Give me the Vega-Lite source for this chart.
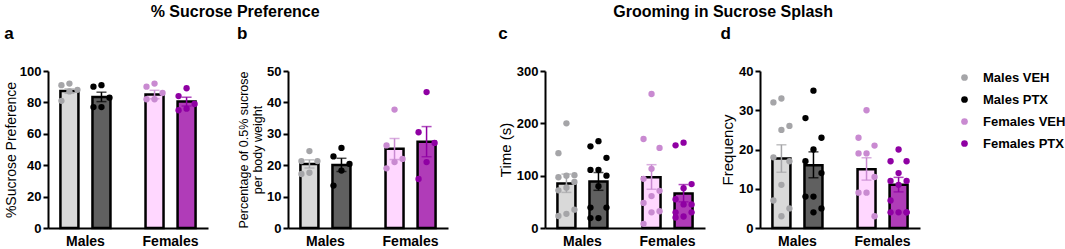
{
  "$schema": "https://vega.github.io/schema/vega-lite/v6.json",
  "padding": {"left": 4, "top": 4, "right": 5, "bottom": 5},
  "datasets": {
    "summary": [
      {"p": "a", "sex": "Males", "trt": "VEH", "mean": 87.2, "lo": 85.8, "hi": 88.6},
      {"p": "a", "sex": "Males", "trt": "PTX", "mean": 83.5, "lo": 80.5, "hi": 86.5},
      {"p": "a", "sex": "Females", "trt": "VEH", "mean": 85.0, "lo": 82.3, "hi": 87.7},
      {"p": "a", "sex": "Females", "trt": "PTX", "mean": 80.5, "lo": 77.7, "hi": 83.3},
      {"p": "b", "sex": "Males", "trt": "VEH", "mean": 20.4, "lo": 19.1, "hi": 21.7},
      {"p": "b", "sex": "Males", "trt": "PTX", "mean": 20.1, "lo": 18.0, "hi": 22.2},
      {"p": "b", "sex": "Females", "trt": "VEH", "mean": 25.2, "lo": 21.8, "hi": 28.5},
      {"p": "b", "sex": "Females", "trt": "PTX", "mean": 27.5, "lo": 22.7, "hi": 32.3},
      {"p": "c", "sex": "Males", "trt": "VEH", "mean": 85, "lo": 68, "hi": 103},
      {"p": "c", "sex": "Males", "trt": "PTX", "mean": 89, "lo": 72, "hi": 106},
      {"p": "c", "sex": "Females", "trt": "VEH", "mean": 97, "lo": 74, "hi": 121},
      {"p": "c", "sex": "Females", "trt": "PTX", "mean": 66, "lo": 50, "hi": 83},
      {"p": "d", "sex": "Males", "trt": "VEH", "mean": 17.7, "lo": 14.2, "hi": 21.2},
      {"p": "d", "sex": "Males", "trt": "PTX", "mean": 16.0, "lo": 12.8, "hi": 19.4},
      {"p": "d", "sex": "Females", "trt": "VEH", "mean": 15.0, "lo": 12.2, "hi": 17.9},
      {"p": "d", "sex": "Females", "trt": "PTX", "mean": 11.0, "lo": 9.2, "hi": 12.9}
    ],
    "points": [
      {"p": "a", "sex": "Males", "trt": "VEH", "v": 92}, {"p": "a", "sex": "Males", "trt": "VEH", "v": 91}, {"p": "a", "sex": "Males", "trt": "VEH", "v": 88}, {"p": "a", "sex": "Males", "trt": "VEH", "v": 87}, {"p": "a", "sex": "Males", "trt": "VEH", "v": 81},
      {"p": "a", "sex": "Males", "trt": "PTX", "v": 91}, {"p": "a", "sex": "Males", "trt": "PTX", "v": 90}, {"p": "a", "sex": "Males", "trt": "PTX", "v": 83}, {"p": "a", "sex": "Males", "trt": "PTX", "v": 77}, {"p": "a", "sex": "Males", "trt": "PTX", "v": 77},
      {"p": "a", "sex": "Females", "trt": "VEH", "v": 92}, {"p": "a", "sex": "Females", "trt": "VEH", "v": 90}, {"p": "a", "sex": "Females", "trt": "VEH", "v": 86}, {"p": "a", "sex": "Females", "trt": "VEH", "v": 82}, {"p": "a", "sex": "Females", "trt": "VEH", "v": 82},
      {"p": "a", "sex": "Females", "trt": "PTX", "v": 89}, {"p": "a", "sex": "Females", "trt": "PTX", "v": 84}, {"p": "a", "sex": "Females", "trt": "PTX", "v": 79}, {"p": "a", "sex": "Females", "trt": "PTX", "v": 76}, {"p": "a", "sex": "Females", "trt": "PTX", "v": 75},
      {"p": "b", "sex": "Males", "trt": "VEH", "v": 24.5}, {"p": "b", "sex": "Males", "trt": "VEH", "v": 21.3}, {"p": "b", "sex": "Males", "trt": "VEH", "v": 21.3}, {"p": "b", "sex": "Males", "trt": "VEH", "v": 17.6}, {"p": "b", "sex": "Males", "trt": "VEH", "v": 17.2},
      {"p": "b", "sex": "Males", "trt": "PTX", "v": 25.5}, {"p": "b", "sex": "Males", "trt": "PTX", "v": 22.8}, {"p": "b", "sex": "Males", "trt": "PTX", "v": 20.4}, {"p": "b", "sex": "Males", "trt": "PTX", "v": 18.3}, {"p": "b", "sex": "Males", "trt": "PTX", "v": 13.5},
      {"p": "b", "sex": "Females", "trt": "VEH", "v": 37.7}, {"p": "b", "sex": "Females", "trt": "VEH", "v": 26.3}, {"p": "b", "sex": "Females", "trt": "VEH", "v": 22}, {"p": "b", "sex": "Females", "trt": "VEH", "v": 21}, {"p": "b", "sex": "Females", "trt": "VEH", "v": 19},
      {"p": "b", "sex": "Females", "trt": "PTX", "v": 43.3}, {"p": "b", "sex": "Females", "trt": "PTX", "v": 30.5}, {"p": "b", "sex": "Females", "trt": "PTX", "v": 27.1}, {"p": "b", "sex": "Females", "trt": "PTX", "v": 21}, {"p": "b", "sex": "Females", "trt": "PTX", "v": 15.6},
      {"p": "c", "sex": "Males", "trt": "VEH", "v": 200}, {"p": "c", "sex": "Males", "trt": "VEH", "v": 143}, {"p": "c", "sex": "Males", "trt": "VEH", "v": 101}, {"p": "c", "sex": "Males", "trt": "VEH", "v": 100}, {"p": "c", "sex": "Males", "trt": "VEH", "v": 97}, {"p": "c", "sex": "Males", "trt": "VEH", "v": 88}, {"p": "c", "sex": "Males", "trt": "VEH", "v": 77}, {"p": "c", "sex": "Males", "trt": "VEH", "v": 72}, {"p": "c", "sex": "Males", "trt": "VEH", "v": 35}, {"p": "c", "sex": "Males", "trt": "VEH", "v": 27}, {"p": "c", "sex": "Males", "trt": "VEH", "v": 23},
      {"p": "c", "sex": "Males", "trt": "PTX", "v": 166}, {"p": "c", "sex": "Males", "trt": "PTX", "v": 156}, {"p": "c", "sex": "Males", "trt": "PTX", "v": 134}, {"p": "c", "sex": "Males", "trt": "PTX", "v": 111}, {"p": "c", "sex": "Males", "trt": "PTX", "v": 111}, {"p": "c", "sex": "Males", "trt": "PTX", "v": 100}, {"p": "c", "sex": "Males", "trt": "PTX", "v": 80}, {"p": "c", "sex": "Males", "trt": "PTX", "v": 39}, {"p": "c", "sex": "Males", "trt": "PTX", "v": 39}, {"p": "c", "sex": "Males", "trt": "PTX", "v": 19}, {"p": "c", "sex": "Males", "trt": "PTX", "v": 19},
      {"p": "c", "sex": "Females", "trt": "VEH", "v": 256}, {"p": "c", "sex": "Females", "trt": "VEH", "v": 170}, {"p": "c", "sex": "Females", "trt": "VEH", "v": 153}, {"p": "c", "sex": "Females", "trt": "VEH", "v": 113}, {"p": "c", "sex": "Females", "trt": "VEH", "v": 94}, {"p": "c", "sex": "Females", "trt": "VEH", "v": 71}, {"p": "c", "sex": "Females", "trt": "VEH", "v": 61}, {"p": "c", "sex": "Females", "trt": "VEH", "v": 48}, {"p": "c", "sex": "Females", "trt": "VEH", "v": 32}, {"p": "c", "sex": "Females", "trt": "VEH", "v": 30}, {"p": "c", "sex": "Females", "trt": "VEH", "v": 8},
      {"p": "c", "sex": "Females", "trt": "PTX", "v": 163}, {"p": "c", "sex": "Females", "trt": "PTX", "v": 158}, {"p": "c", "sex": "Females", "trt": "PTX", "v": 84}, {"p": "c", "sex": "Females", "trt": "PTX", "v": 76}, {"p": "c", "sex": "Females", "trt": "PTX", "v": 55}, {"p": "c", "sex": "Females", "trt": "PTX", "v": 45}, {"p": "c", "sex": "Females", "trt": "PTX", "v": 45}, {"p": "c", "sex": "Females", "trt": "PTX", "v": 30}, {"p": "c", "sex": "Females", "trt": "PTX", "v": 30}, {"p": "c", "sex": "Females", "trt": "PTX", "v": 22}, {"p": "c", "sex": "Females", "trt": "PTX", "v": 20},
      {"p": "d", "sex": "Males", "trt": "VEH", "v": 33}, {"p": "d", "sex": "Males", "trt": "VEH", "v": 32}, {"p": "d", "sex": "Males", "trt": "VEH", "v": 26}, {"p": "d", "sex": "Males", "trt": "VEH", "v": 25}, {"p": "d", "sex": "Males", "trt": "VEH", "v": 18}, {"p": "d", "sex": "Males", "trt": "VEH", "v": 17}, {"p": "d", "sex": "Males", "trt": "VEH", "v": 11}, {"p": "d", "sex": "Males", "trt": "VEH", "v": 7}, {"p": "d", "sex": "Males", "trt": "VEH", "v": 5}, {"p": "d", "sex": "Males", "trt": "VEH", "v": 3},
      {"p": "d", "sex": "Males", "trt": "PTX", "v": 35}, {"p": "d", "sex": "Males", "trt": "PTX", "v": 28}, {"p": "d", "sex": "Males", "trt": "PTX", "v": 23}, {"p": "d", "sex": "Males", "trt": "PTX", "v": 20}, {"p": "d", "sex": "Males", "trt": "PTX", "v": 17}, {"p": "d", "sex": "Males", "trt": "PTX", "v": 14}, {"p": "d", "sex": "Males", "trt": "PTX", "v": 8}, {"p": "d", "sex": "Males", "trt": "PTX", "v": 8}, {"p": "d", "sex": "Males", "trt": "PTX", "v": 5}, {"p": "d", "sex": "Males", "trt": "PTX", "v": 4},
      {"p": "d", "sex": "Females", "trt": "VEH", "v": 30}, {"p": "d", "sex": "Females", "trt": "VEH", "v": 23}, {"p": "d", "sex": "Females", "trt": "VEH", "v": 21}, {"p": "d", "sex": "Females", "trt": "VEH", "v": 19}, {"p": "d", "sex": "Females", "trt": "VEH", "v": 19}, {"p": "d", "sex": "Females", "trt": "VEH", "v": 13}, {"p": "d", "sex": "Females", "trt": "VEH", "v": 9}, {"p": "d", "sex": "Females", "trt": "VEH", "v": 9}, {"p": "d", "sex": "Females", "trt": "VEH", "v": 3},
      {"p": "d", "sex": "Females", "trt": "PTX", "v": 20}, {"p": "d", "sex": "Females", "trt": "PTX", "v": 17}, {"p": "d", "sex": "Females", "trt": "PTX", "v": 17}, {"p": "d", "sex": "Females", "trt": "PTX", "v": 14}, {"p": "d", "sex": "Females", "trt": "PTX", "v": 12}, {"p": "d", "sex": "Females", "trt": "PTX", "v": 12}, {"p": "d", "sex": "Females", "trt": "PTX", "v": 11}, {"p": "d", "sex": "Females", "trt": "PTX", "v": 7}, {"p": "d", "sex": "Females", "trt": "PTX", "v": 4}, {"p": "d", "sex": "Females", "trt": "PTX", "v": 4}, {"p": "d", "sex": "Females", "trt": "PTX", "v": 4}, {"p": "d", "sex": "Females", "trt": "PTX", "v": 4}
    ]
  },
  "spacing": 50,
  "hconcat": [
    {
      "title": {"text": "% Sucrose Preference", "fontSize": 16, "fontWeight": "bold", "anchor": "middle", "offset": 5, "dx": 9},
      "bounds": "flush",
      "spacing": 80,
      "hconcat": [
        {
          "width": 160, "height": 157,
          "title": {"text": "a", "anchor": "start", "fontSize": 17, "fontWeight": "bold", "offset": 22},
          "layer": [
            {
              "data": {"name": "summary"},
              "transform": [{"filter": "datum.p === 'a'"}, {"calculate": "datum.sex + ' ' + datum.trt", "as": "group"}, {"calculate": "datum.trt + '-C'", "as": "slot"}],
              "encoding": {
                "x": {"field": "sex", "type": "nominal", "sort": ["Males", "Females"], "scale": {"paddingInner": 0.2, "paddingOuter": 0.04}, "title": null},
                "xOffset": {"field": "slot", "type": "nominal", "scale": {"domain": ["VEH-L", "VEH-C", "VEH-R", "gap", "PTX-L", "PTX-C", "PTX-R"], "paddingInner": 0, "paddingOuter": 0.75}}
              },
              "layer": [
                {"mark": {"type": "bar", "width": 18, "stroke": "black", "strokeWidth": 2.5},
                 "encoding": {"y": {"field": "mean", "type": "quantitative", "scale": {"domain": [0, 100], "nice": false}, "axis": {"values": [0, 20, 40, 60, 80, 100], "titlePadding": 1}, "title": "%Sucrose Preference"},
                   "fill": {"field": "group", "type": "nominal", "scale": {"domain": ["Males VEH", "Males PTX", "Females VEH", "Females PTX"], "range": ["#d9d9d9", "#606060", "#ffd7ff", "#b03cb8"]}, "legend": null}}},
                {"mark": {"type": "rule", "strokeWidth": 1.5},
                 "encoding": {"y": {"field": "lo", "type": "quantitative", "axis": {"values": [0, 20, 40, 60, 80, 100], "titlePadding": 1}, "title": "%Sucrose Preference"}, "y2": {"field": "hi"},
                   "color": {"field": "group", "type": "nominal", "sort": ["Males VEH", "Males PTX", "Females VEH", "Females PTX"]}}},
                {"mark": {"type": "tick", "size": 10, "thickness": 1.5},
                 "encoding": {"y": {"field": "hi", "type": "quantitative", "axis": {"values": [0, 20, 40, 60, 80, 100], "titlePadding": 1}, "title": "%Sucrose Preference"},
                   "color": {"field": "group", "type": "nominal", "sort": ["Males VEH", "Males PTX", "Females VEH", "Females PTX"]}}},
                {"mark": {"type": "tick", "size": 10, "thickness": 1.5},
                 "encoding": {"y": {"field": "lo", "type": "quantitative", "axis": {"values": [0, 20, 40, 60, 80, 100], "titlePadding": 1}, "title": "%Sucrose Preference"},
                   "color": {"field": "group", "type": "nominal", "sort": ["Males VEH", "Males PTX", "Females VEH", "Females PTX"]}}}
              ]
            },
            {
              "data": {"name": "points"},
              "transform": [{"filter": "datum.p === 'a'"}, {"calculate": "datum.sex + ' ' + datum.trt", "as": "group"},
                {"window": [{"op": "row_number", "as": "rn"}], "groupby": ["sex", "trt"], "sort": [{"field": "v", "order": "descending"}]},
                {"calculate": "datum.trt + '-' + (datum.rn % 3 === 1 ? 'C' : (datum.rn % 3 === 2 ? 'L' : 'R'))", "as": "slot"}],
              "mark": {"type": "circle", "size": 40, "opacity": 1},
              "encoding": {
                "x": {"field": "sex", "type": "nominal", "sort": ["Males", "Females"], "title": null},
                "xOffset": {"field": "slot", "type": "nominal"},
                "y": {"field": "v", "type": "quantitative", "axis": {"values": [0, 20, 40, 60, 80, 100], "titlePadding": 1}, "title": "%Sucrose Preference"},
                "color": {"field": "group", "type": "nominal", "sort": ["Males VEH", "Males PTX", "Females VEH", "Females PTX"]}
              }
            }
          ]
        },
        {
          "width": 160, "height": 157,
          "title": {"text": "b", "anchor": "start", "fontSize": 17, "fontWeight": "bold", "offset": 22},
          "layer": [
            {
              "data": {"name": "summary"},
              "transform": [{"filter": "datum.p === 'b'"}, {"calculate": "datum.sex + ' ' + datum.trt", "as": "group"}, {"calculate": "datum.trt + '-C'", "as": "slot"}],
              "encoding": {
                "x": {"field": "sex", "type": "nominal", "sort": ["Males", "Females"], "scale": {"paddingInner": 0.2, "paddingOuter": 0.04}, "title": null},
                "xOffset": {"field": "slot", "type": "nominal", "scale": {"domain": ["VEH-L", "VEH-C", "VEH-R", "gap", "PTX-L", "PTX-C", "PTX-R"], "paddingInner": 0, "paddingOuter": 0.75}}
              },
              "layer": [
                {"mark": {"type": "bar", "width": 18, "stroke": "black", "strokeWidth": 2.5},
                 "encoding": {"y": {"field": "mean", "type": "quantitative", "scale": {"domain": [0, 50], "nice": false}, "axis": {"values": [0, 10, 20, 30, 40, 50], "titleFontSize": 12.5, "titlePadding": 2}, "title": ["Percentage of 0.5% sucrose", "per body weight"]},
                   "fill": {"field": "group", "type": "nominal", "scale": {"domain": ["Males VEH", "Males PTX", "Females VEH", "Females PTX"], "range": ["#d9d9d9", "#606060", "#ffd7ff", "#b03cb8"]}, "legend": null}}},
                {"mark": {"type": "rule", "strokeWidth": 1.5},
                 "encoding": {"y": {"field": "lo", "type": "quantitative", "axis": {"values": [0, 10, 20, 30, 40, 50], "titleFontSize": 12.5, "titlePadding": 2}, "title": ["Percentage of 0.5% sucrose", "per body weight"]}, "y2": {"field": "hi"},
                   "color": {"field": "group", "type": "nominal", "sort": ["Males VEH", "Males PTX", "Females VEH", "Females PTX"]}}},
                {"mark": {"type": "tick", "size": 10, "thickness": 1.5},
                 "encoding": {"y": {"field": "hi", "type": "quantitative", "axis": {"values": [0, 10, 20, 30, 40, 50], "titleFontSize": 12.5, "titlePadding": 2}, "title": ["Percentage of 0.5% sucrose", "per body weight"]},
                   "color": {"field": "group", "type": "nominal", "sort": ["Males VEH", "Males PTX", "Females VEH", "Females PTX"]}}},
                {"mark": {"type": "tick", "size": 10, "thickness": 1.5},
                 "encoding": {"y": {"field": "lo", "type": "quantitative", "axis": {"values": [0, 10, 20, 30, 40, 50], "titleFontSize": 12.5, "titlePadding": 2}, "title": ["Percentage of 0.5% sucrose", "per body weight"]},
                   "color": {"field": "group", "type": "nominal", "sort": ["Males VEH", "Males PTX", "Females VEH", "Females PTX"]}}}
              ]
            },
            {
              "data": {"name": "points"},
              "transform": [{"filter": "datum.p === 'b'"}, {"calculate": "datum.sex + ' ' + datum.trt", "as": "group"},
                {"window": [{"op": "row_number", "as": "rn"}], "groupby": ["sex", "trt"], "sort": [{"field": "v", "order": "descending"}]},
                {"calculate": "datum.trt + '-' + (datum.rn % 3 === 1 ? 'C' : (datum.rn % 3 === 2 ? 'L' : 'R'))", "as": "slot"}],
              "mark": {"type": "circle", "size": 40, "opacity": 1},
              "encoding": {
                "x": {"field": "sex", "type": "nominal", "sort": ["Males", "Females"], "title": null},
                "xOffset": {"field": "slot", "type": "nominal"},
                "y": {"field": "v", "type": "quantitative", "axis": {"values": [0, 10, 20, 30, 40, 50], "titleFontSize": 12.5, "titlePadding": 2}, "title": ["Percentage of 0.5% sucrose", "per body weight"]},
                "color": {"field": "group", "type": "nominal", "sort": ["Males VEH", "Males PTX", "Females VEH", "Females PTX"]}
              }
            }
          ]
        }
      ]
    },
    {
      "title": {"text": "Grooming in Sucrose Splash", "fontSize": 16, "fontWeight": "bold", "anchor": "middle", "offset": 5, "dx": 14},
      "bounds": "flush",
      "spacing": 55,
      "hconcat": [
        {
          "width": 160, "height": 157,
          "title": {"text": "c", "anchor": "start", "fontSize": 17, "fontWeight": "bold", "offset": 22},
          "layer": [
            {
              "data": {"name": "summary"},
              "transform": [{"filter": "datum.p === 'c'"}, {"calculate": "datum.sex + ' ' + datum.trt", "as": "group"}, {"calculate": "datum.trt + '-C'", "as": "slot"}],
              "encoding": {
                "x": {"field": "sex", "type": "nominal", "sort": ["Males", "Females"], "scale": {"paddingInner": 0.2, "paddingOuter": 0.04}, "title": null},
                "xOffset": {"field": "slot", "type": "nominal", "scale": {"domain": ["VEH-L", "VEH-C", "VEH-R", "gap", "PTX-L", "PTX-C", "PTX-R"], "paddingInner": 0, "paddingOuter": 0.75}}
              },
              "layer": [
                {"mark": {"type": "bar", "width": 18, "stroke": "black", "strokeWidth": 2.5},
                 "encoding": {"y": {"field": "mean", "type": "quantitative", "scale": {"domain": [0, 300], "nice": false}, "axis": {"values": [0, 100, 200, 300], "titleFontSize": 15}, "title": "Time (s)"},
                   "fill": {"field": "group", "type": "nominal", "scale": {"domain": ["Males VEH", "Males PTX", "Females VEH", "Females PTX"], "range": ["#d9d9d9", "#606060", "#ffd7ff", "#b03cb8"]}, "legend": null}}},
                {"mark": {"type": "rule", "strokeWidth": 1.5},
                 "encoding": {"y": {"field": "lo", "type": "quantitative", "axis": {"values": [0, 100, 200, 300], "titleFontSize": 15}, "title": "Time (s)"}, "y2": {"field": "hi"},
                   "color": {"field": "group", "type": "nominal", "sort": ["Males VEH", "Males PTX", "Females VEH", "Females PTX"]}}},
                {"mark": {"type": "tick", "size": 10, "thickness": 1.5},
                 "encoding": {"y": {"field": "hi", "type": "quantitative", "axis": {"values": [0, 100, 200, 300], "titleFontSize": 15}, "title": "Time (s)"},
                   "color": {"field": "group", "type": "nominal", "sort": ["Males VEH", "Males PTX", "Females VEH", "Females PTX"]}}},
                {"mark": {"type": "tick", "size": 10, "thickness": 1.5},
                 "encoding": {"y": {"field": "lo", "type": "quantitative", "axis": {"values": [0, 100, 200, 300], "titleFontSize": 15}, "title": "Time (s)"},
                   "color": {"field": "group", "type": "nominal", "sort": ["Males VEH", "Males PTX", "Females VEH", "Females PTX"]}}}
              ]
            },
            {
              "data": {"name": "points"},
              "transform": [{"filter": "datum.p === 'c'"}, {"calculate": "datum.sex + ' ' + datum.trt", "as": "group"},
                {"window": [{"op": "row_number", "as": "rn"}], "groupby": ["sex", "trt"], "sort": [{"field": "v", "order": "descending"}]},
                {"calculate": "datum.trt + '-' + (datum.rn % 3 === 1 ? 'C' : (datum.rn % 3 === 2 ? 'L' : 'R'))", "as": "slot"}],
              "mark": {"type": "circle", "size": 40, "opacity": 1},
              "encoding": {
                "x": {"field": "sex", "type": "nominal", "sort": ["Males", "Females"], "title": null},
                "xOffset": {"field": "slot", "type": "nominal"},
                "y": {"field": "v", "type": "quantitative", "axis": {"values": [0, 100, 200, 300], "titleFontSize": 15}, "title": "Time (s)"},
                "color": {"field": "group", "type": "nominal", "sort": ["Males VEH", "Males PTX", "Females VEH", "Females PTX"]}
              }
            }
          ]
        },
        {
          "width": 160, "height": 157,
          "title": {"text": "d", "anchor": "start", "fontSize": 17, "fontWeight": "bold", "offset": 22},
          "layer": [
            {
              "data": {"name": "summary"},
              "transform": [{"filter": "datum.p === 'd'"}, {"calculate": "datum.sex + ' ' + datum.trt", "as": "group"}, {"calculate": "datum.trt + '-C'", "as": "slot"}],
              "encoding": {
                "x": {"field": "sex", "type": "nominal", "sort": ["Males", "Females"], "scale": {"paddingInner": 0.2, "paddingOuter": 0.04}, "title": null},
                "xOffset": {"field": "slot", "type": "nominal", "scale": {"domain": ["VEH-L", "VEH-C", "VEH-R", "gap", "PTX-L", "PTX-C", "PTX-R"], "paddingInner": 0, "paddingOuter": 0.75}}
              },
              "layer": [
                {"mark": {"type": "bar", "width": 18, "stroke": "black", "strokeWidth": 2.5},
                 "encoding": {"y": {"field": "mean", "type": "quantitative", "scale": {"domain": [0, 40], "nice": false}, "axis": {"values": [0, 10, 20, 30, 40], "titleFontSize": 15}, "title": "Frequency"},
                   "fill": {"field": "group", "type": "nominal", "scale": {"domain": ["Males VEH", "Males PTX", "Females VEH", "Females PTX"], "range": ["#d9d9d9", "#606060", "#ffd7ff", "#b03cb8"]}, "legend": null}}},
                {"mark": {"type": "rule", "strokeWidth": 1.5},
                 "encoding": {"y": {"field": "lo", "type": "quantitative", "axis": {"values": [0, 10, 20, 30, 40], "titleFontSize": 15}, "title": "Frequency"}, "y2": {"field": "hi"},
                   "color": {"field": "group", "type": "nominal", "sort": ["Males VEH", "Males PTX", "Females VEH", "Females PTX"]}}},
                {"mark": {"type": "tick", "size": 10, "thickness": 1.5},
                 "encoding": {"y": {"field": "hi", "type": "quantitative", "axis": {"values": [0, 10, 20, 30, 40], "titleFontSize": 15}, "title": "Frequency"},
                   "color": {"field": "group", "type": "nominal", "sort": ["Males VEH", "Males PTX", "Females VEH", "Females PTX"]}}},
                {"mark": {"type": "tick", "size": 10, "thickness": 1.5},
                 "encoding": {"y": {"field": "lo", "type": "quantitative", "axis": {"values": [0, 10, 20, 30, 40], "titleFontSize": 15}, "title": "Frequency"},
                   "color": {"field": "group", "type": "nominal", "sort": ["Males VEH", "Males PTX", "Females VEH", "Females PTX"]}}}
              ]
            },
            {
              "data": {"name": "points"},
              "transform": [{"filter": "datum.p === 'd'"}, {"calculate": "datum.sex + ' ' + datum.trt", "as": "group"},
                {"window": [{"op": "row_number", "as": "rn"}], "groupby": ["sex", "trt"], "sort": [{"field": "v", "order": "descending"}]},
                {"calculate": "datum.trt + '-' + (datum.rn % 3 === 1 ? 'C' : (datum.rn % 3 === 2 ? 'L' : 'R'))", "as": "slot"}],
              "mark": {"type": "circle", "size": 40, "opacity": 1},
              "encoding": {
                "x": {"field": "sex", "type": "nominal", "sort": ["Males", "Females"], "title": null},
                "xOffset": {"field": "slot", "type": "nominal"},
                "y": {"field": "v", "type": "quantitative", "axis": {"values": [0, 10, 20, 30, 40], "titleFontSize": 15}, "title": "Frequency"},
                "color": {"field": "group", "type": "nominal", "sort": ["Males VEH", "Males PTX", "Females VEH", "Females PTX"]}
              }
            }
          ]
        }
      ]
    }
  ],
  "resolve": {"scale": {"color": "shared"}},
  "config": {
    "font": "Liberation Sans",
    "view": {"stroke": null},
    "range": {"category": ["#a5a5a8", "#000000", "#c98ad1", "#8f00a3"]},
    "title": {"color": "black"},
    "axisX": {"domainWidth": 2, "domainColor": "black", "ticks": false, "labelFontSize": 14, "labelFontWeight": "bold", "labelColor": "black", "labelAngle": 0, "labelPadding": 6, "grid": false},
    "axisY": {"domainWidth": 2, "domainColor": "black", "tickColor": "black", "tickWidth": 2, "tickSize": 5, "labelFontSize": 13, "labelFontWeight": "bold", "labelColor": "black", "labelPadding": 2, "titleFontSize": 14, "titleFontWeight": "normal", "titleColor": "black", "grid": false, "titlePadding": 3},
    "legend": {"orient": "right", "offset": 38, "title": null, "labelFontSize": 13, "labelFontWeight": "bold", "labelColor": "black", "symbolType": "circle", "symbolSize": 45, "symbolOpacity": 1, "symbolStrokeWidth": 0, "rowPadding": 8, "labelOffset": 12}
  }
}
